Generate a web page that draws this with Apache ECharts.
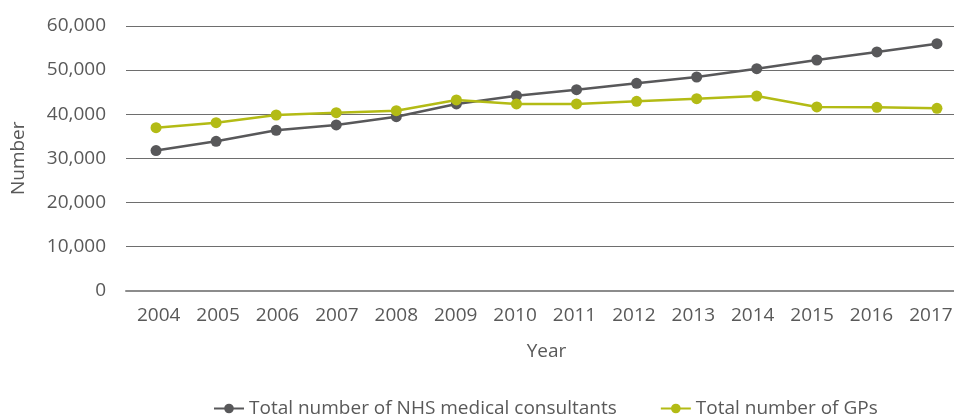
<!DOCTYPE html>
<html><head><meta charset="utf-8">
<script src="https://cdn.jsdelivr.net/npm/echarts@6/dist/echarts.min.js"></script>
<style>html,body{margin:0;padding:0;background:#fff}#c{width:954px;height:414px}</style>
</head><body><div id="c"></div>
<script>
const years = ['2004','2005','2006','2007','2008','2009','2010','2011','2012','2013','2014','2015','2016','2017'];
const consultants = [31750,33850,36340,37550,39430,42310,44190,45550,47000,48430,50320,52290,54110,55990];
const gps = [36930,38070,39810,40340,40790,43220,42310,42310,42920,43510,44120,41630,41560,41330];
const seriesNames = ['Total number of NHS medical consultants','Total number of GPs'];
const FONT = '"Open Sans", "Noto Sans", sans-serif';
const TXT = '#595959';
const chart = echarts.init(document.getElementById('c'), null, {renderer:'canvas'});
chart.setOption({
  animation:false,
  grid:[
    {left:126,width:841,top:26,height:264.5,containLabel:false,outerBoundsMode:'none'},
    {left:129,width:831.6,top:26,height:264.5,containLabel:false,outerBoundsMode:'none'}
  ],
  legend:{
    top:394, left:208, itemGap:43, itemWidth:30, itemHeight:12,
    textStyle:{fontFamily:FONT,fontSize:19,color:TXT},
    data:seriesNames
  },
  xAxis:[{
    type:'category', data:years, boundaryGap:true, gridIndex:0,
    name:'Year', nameLocation:'middle', nameGap:52,
    nameTextStyle:{fontFamily:FONT,fontSize:19,color:TXT},
    axisLine:{show:true,lineStyle:{color:'#8c8c8c',width:2}},
    axisTick:{show:false},
    axisLabel:{show:false}
  },{
    type:'category', data:years, boundaryGap:true, gridIndex:1,
    axisLine:{show:false}, axisTick:{show:false}, splitLine:{show:false},
    axisLabel:{fontFamily:FONT,fontSize:19,color:TXT,margin:16}
  }],
  yAxis:[{
    type:'value', min:0, max:60000, interval:10000, gridIndex:0,
    name:'Number', nameLocation:'middle', nameGap:98, nameRotate:90,
    nameTextStyle:{fontFamily:FONT,fontSize:19,color:TXT},
    axisLine:{show:false}, axisTick:{show:false},
    axisLabel:{fontFamily:FONT,fontSize:19,color:TXT,margin:20,
      formatter:v=>v.toLocaleString('en-US')},
    splitLine:{lineStyle:{color:'#6e6e6e',width:1.2}}
  },{
    type:'value', min:0, max:60000, interval:10000, gridIndex:1, show:false,
    splitLine:{show:false}
  }],
  series:[
    {name:seriesNames[0],type:'line',data:consultants,symbol:'circle',symbolSize:11,
     itemStyle:{color:'#58585a'},lineStyle:{color:'#58585a',width:2.5},z:3},
    {name:seriesNames[1],type:'line',data:gps,symbol:'circle',symbolSize:11,
     itemStyle:{color:'#b3bb15'},lineStyle:{color:'#b3bb15',width:2.5},z:4}
  ]
});
</script></body></html>
